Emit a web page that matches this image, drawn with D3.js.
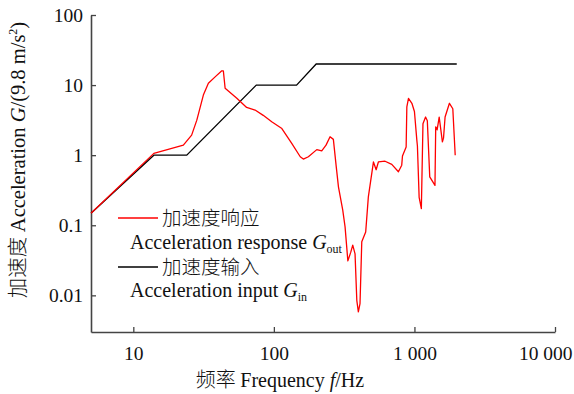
<!DOCTYPE html>
<html>
<head>
<meta charset="utf-8">
<script src="https://cdn.jsdelivr.net/npm/d3@7"></script>
<style>
  body { margin: 0; background: #fff; }
  svg text { font-family: "Liberation Serif", "Noto Sans CJK SC", serif; fill: #111; }
  .cjk { font-family: "Noto Sans CJK SC", sans-serif; font-weight: 300; }
</style>
</head>
<body>
<div id="chart"></div>
<script>
// Frequency response data (f in Hz, G in 9.8 m/s^2)
const inputFreq = [5, 14, 24, 75, 145, 200, 2000];
const inputG = [0.148, 1, 1, 10, 10, 20, 20];

const responseFreq = [5, 14, 22.7, 26, 28.3, 31.5, 34.2, 38.2, 42.6, 43.7, 45, 54.5, 64, 73.5, 84, 96.5, 114, 134, 154, 162, 176, 202, 219, 235, 251, 265, 277, 288, 309, 321, 336, 352, 364, 378, 389, 399, 410, 422, 450, 470, 511, 534, 554, 618, 690, 769, 812, 822, 873, 883, 907, 959, 1000, 1040, 1050, 1080, 1120, 1150, 1200, 1235, 1285, 1400, 1417, 1450, 1500, 1581, 1610, 1652, 1774, 1875, 1950];
const responseG = [0.148, 1.06, 1.39, 1.93, 3.16, 7.2, 10.6, 13.1, 16, 16, 9, 6.5, 4.8, 4.4, 3.7, 3.0, 2.4, 1.47, 0.95, 0.88, 0.95, 1.2, 1.15, 1.39, 1.83, 1.68, 0.72, 0.353, 0.164, 0.095, 0.031, 0.041, 0.052, 0.039, 0.0085, 0.0058, 0.0076, 0.058, 0.080, 0.254, 0.80, 0.62, 0.80, 0.82, 0.74, 0.58, 0.72, 0.97, 1.31, 4.9, 6.45, 5.5, 4.2, 1.64, 1.35, 0.25, 0.173, 2.8, 3.5, 3.1, 0.49, 0.37, 2.54, 2.3, 3.5, 1.55, 1.75, 3.5, 5.5, 4.6, 1.0];

const xTicks = [10, 100, 1000, 10000];
const yTicks = [0.01, 0.1, 1, 10, 100];

const width = 574, height = 394;
const margin = { top: 15, right: 19, bottom: 62, left: 91 };

const svg = d3.select("#chart").append("svg")
  .attr("width", width)
  .attr("height", height);

const x = d3.scaleLog()
  .domain([5, 10000])
  .range([margin.left, width - margin.right]);

const y = d3.scaleLog()
  .domain([0.003, 100])
  .range([height - margin.bottom, margin.top]);

const fmtX = d => d >= 1000 ? d3.format(",")(d).replace(/,/g, " ") : d;

// Axes (ticks point inward)
const xAxis = svg.append("g")
  .attr("transform", `translate(0,${height - margin.bottom})`)
  .call(d3.axisBottom(x).tickValues(xTicks).tickFormat(fmtX).tickSizeInner(-5).tickSizeOuter(0).tickPadding(14));

const yAxis = svg.append("g")
  .attr("transform", `translate(${margin.left},0)`)
  .call(d3.axisLeft(y).tickValues(yTicks).tickFormat(d => d).tickSizeInner(-5).tickSizeOuter(0).tickPadding(8));

[xAxis, yAxis].forEach(g => {
  g.select(".domain").attr("stroke", "#444").attr("stroke-width", 1.6);
  g.selectAll(".tick line").attr("stroke", "#444").attr("stroke-width", 1.3);
  g.selectAll(".tick text").attr("font-size", 19.5).attr("fill", "#111");
});

// last label is pulled inside the window, as in the original
xAxis.selectAll(".tick text")
  .filter(d => d === 10000)
  .attr("text-anchor", "end")
  .attr("x", 17);

// Curves
const line = d3.line()
  .x(d => x(d[0]))
  .y(d => y(d[1]));

svg.append("path")
  .datum(inputFreq.map((f, i) => [f, inputG[i]]))
  .attr("d", line)
  .attr("fill", "none")
  .attr("stroke", "#000")
  .attr("stroke-width", 1.3);

svg.append("path")
  .datum(responseFreq.map((f, i) => [f, responseG[i]]))
  .attr("d", line)
  .attr("fill", "none")
  .attr("stroke", "#ff0000")
  .attr("stroke-width", 1.3)
  .attr("stroke-linejoin", "round");

// Legend
const legend = svg.append("g");

function legendEntry(ly, color, cn, en, sub, enY) {
  legend.append("line")
    .attr("x1", 118).attr("x2", 158)
    .attr("y1", ly).attr("y2", ly)
    .attr("stroke", color).attr("stroke-width", 1.5);
  legend.append("text")
    .attr("class", "cjk")
    .attr("x", 162).attr("y", ly + 7)
    .attr("font-size", 19.5)
    .text(cn);
  const t = legend.append("text")
    .attr("x", 130).attr("y", enY)
    .attr("font-size", 20);
  t.append("tspan").text(en);
  t.append("tspan").attr("font-style", "italic").text("G");
  t.append("tspan").attr("font-size", 12).attr("dy", 4).text(sub);
}

legendEntry(218, "#ff0000", "加速度响应", "Acceleration response ", "out", 249);
legendEntry(267, "#000", "加速度输入", "Acceleration input ", "in", 297);

// Axis titles
const xl = svg.append("text")
  .attr("x", 280).attr("y", 387)
  .attr("text-anchor", "middle")
  .attr("font-size", 20);
xl.append("tspan").attr("class", "cjk").text("频率 ");
xl.append("tspan").text("Frequency ");
xl.append("tspan").attr("font-style", "italic").text("f");
xl.append("tspan").text("/Hz");

const yl = svg.append("text")
  .attr("transform", "translate(25,160) rotate(-90)")
  .attr("text-anchor", "middle")
  .attr("font-size", 20.5);
yl.append("tspan").attr("class", "cjk").text("加速度 ");
yl.append("tspan").text("Acceleration ");
yl.append("tspan").attr("font-style", "italic").text("G");
yl.append("tspan").text("/(9.8 m/s");
yl.append("tspan").attr("font-size", 12).attr("dy", -8).text("2");
yl.append("tspan").attr("dy", 8).text(")");
</script>
</body>
</html>
